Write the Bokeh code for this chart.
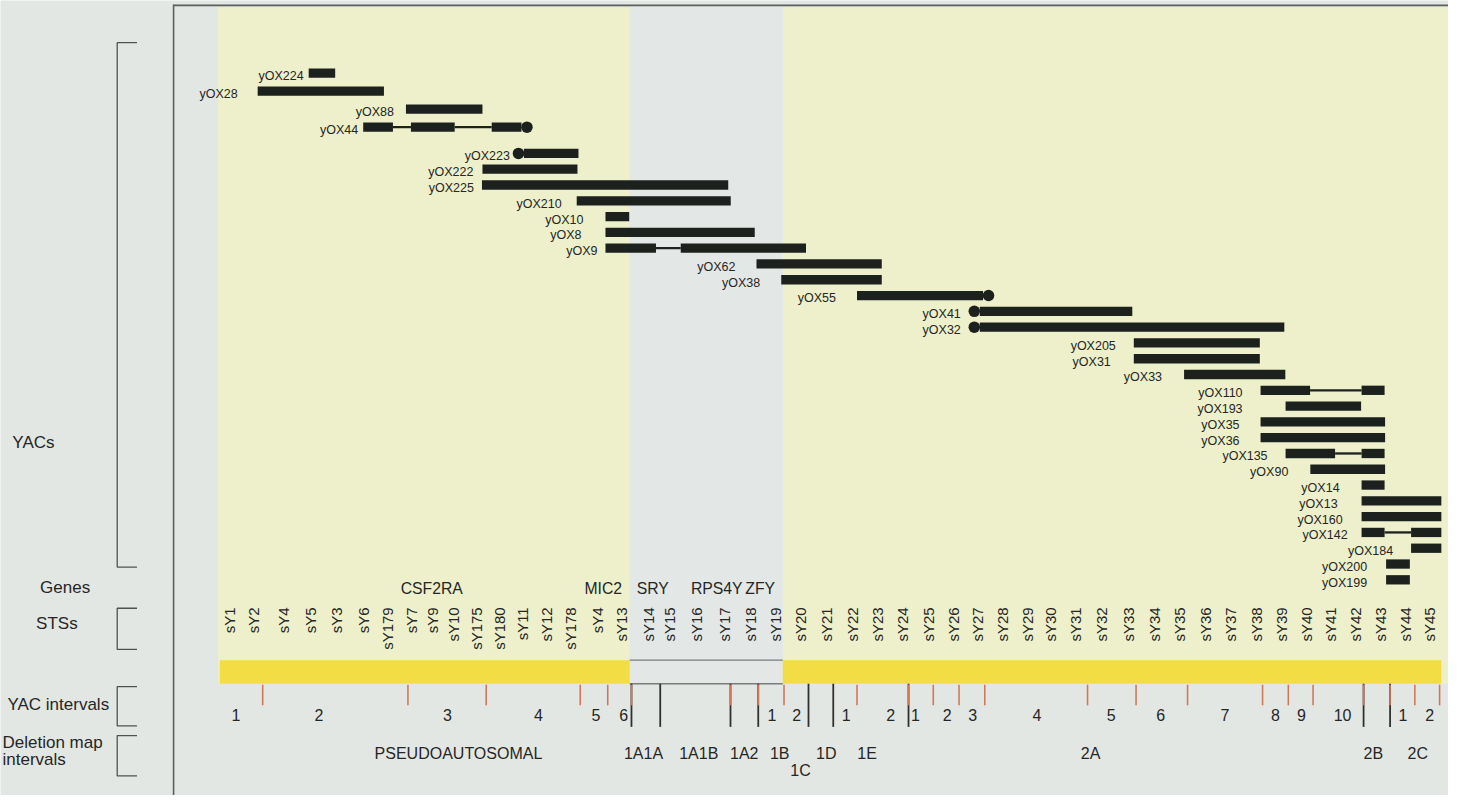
import numpy as np
from bokeh.plotting import figure
from bokeh.models import Range1d
from bokeh.embed import file_html
from bokeh.resources import INLINE
from bokeh.core.properties import value

# ---------------- DATA (map positions in STS-spacing units, sY1 = 0) ----------------
sts_names = ["sY1", "sY2", "sY4", "sY5", "sY3", "sY6", "sY179", "sY7", "sY9", "sY10",
             "sY175", "sY180", "sY11", "sY12", "sY178", "sY4", "sY13", "sY14", "sY15",
             "sY16", "sY17", "sY18", "sY19", "sY20", "sY21", "sY22", "sY23", "sY24",
             "sY25", "sY26", "sY27", "sY28", "sY29", "sY30", "sY31", "sY32", "sY33",
             "sY34", "sY35", "sY36", "sY37", "sY38", "sY39", "sY40", "sY41", "sY42",
             "sY43", "sY44", "sY45"]
sts_pos = [0.00, 0.96, 2.15, 3.23, 4.26, 5.34, 6.33, 7.28, 8.11, 8.96, 9.89, 10.81,
           11.73, 12.66, 13.65, 14.70, 15.69, 16.74, 17.58, 18.66, 19.78, 20.83, 21.82,
           22.81, 23.86, 24.92, 25.91, 26.90, 27.93, 28.94, 29.91, 30.92, 31.91, 32.83,
           33.82, 34.87, 35.93, 36.99, 37.97, 39.03, 40.02, 41.07, 42.06, 43.05, 44.04,
           45.03, 46.02, 47.01, 48.00]

yac_names = ["yOX224", "yOX28", "yOX88", "yOX44", "yOX223", "yOX222", "yOX225", "yOX210",
             "yOX10", "yOX8", "yOX9", "yOX62", "yOX38", "yOX55", "yOX41", "yOX32",
             "yOX205", "yOX31", "yOX33", "yOX110", "yOX193", "yOX35", "yOX36", "yOX135",
             "yOX90", "yOX14", "yOX13", "yOX160", "yOX142", "yOX184", "yOX200", "yOX199"]
yac_start = [3.16, 1.12, 7.05, 5.34, 11.77, 10.11, 10.09, 13.88, 15.03, 15.03, 15.03,
             21.07, 22.06, 25.09, 30.00, 30.00, 36.16, 36.16, 38.17, 41.23, 42.23, 41.23,
             41.23, 42.23, 43.22, 45.27, 45.27, 45.27, 45.27, 47.25, 46.25, 46.25]
yac_end = [4.22, 6.17, 10.11, 11.67, 13.95, 13.91, 19.94, 20.04, 15.98, 21.00, 23.05,
           26.08, 26.08, 30.13, 36.10, 42.18, 41.20, 41.20, 42.22, 46.19, 45.25, 46.21,
           46.21, 46.19, 46.21, 46.19, 48.46, 48.46, 48.46, 48.46, 47.20, 47.20]
# internal gaps (stretches drawn as a thin line)
yac_gaps = {
    "yOX44": [(6.53, 7.25), (9.00, 10.48)],
    "yOX9": [(17.05, 18.04)],
    "yOX110": [(43.21, 45.27)],
    "yOX135": [(44.21, 45.27)],
    "yOX142": [(46.19, 47.25)],
}
# ends marked with a filled circle
yac_end_marker = {"yOX44": "right", "yOX223": "left", "yOX55": "right",
                  "yOX41": "left", "yOX32": "left"}

gene_names = ["CSF2RA", "MIC2", "SRY", "RPS4Y", "ZFY"]
gene_pos = [8.08, 14.94, 16.92, 19.48, 21.22]

yac_interval_bounds = [1.32, 7.13, 10.26, 14.02, 15.12, 16.07, 20.03, 21.14, 22.17, 25.09,
                       27.15, 28.14, 29.17, 30.20, 34.31, 36.25, 38.31, 41.31, 42.34,
                       43.33, 45.35, 46.41, 47.40, 48.39]
deletion_bounds = [16.07, 17.22, 20.03, 21.14, 23.15, 24.14, 27.15, 45.35, 46.41]

yac_interval_labels = ["1", "2", "3", "4", "5", "6", "1", "2", "1", "2", "1", "2", "3",
                       "4", "5", "6", "7", "8", "9", "10", "1", "2"]
yac_interval_label_pos = [0.25, 3.57, 8.71, 12.35, 14.65, 15.76, 21.69, 22.68, 24.66,
                          26.44, 27.43, 28.70, 29.72, 32.29, 35.26, 37.24, 39.81, 41.83,
                          42.86, 44.51, 46.92, 47.99]

deletion_labels = ["PSEUDOAUTOSOMAL", "1A1A", "1A1B", "1A2", "1B", "1C", "1D", "1E",
                   "2A", "2B", "2C"]
deletion_label_pos = [9.15, 16.55, 18.76, 20.58, 22.00, 22.83, 23.86, 25.49, 34.43,
                      45.74, 47.52]
deletion_label_row = [0, 0, 0, 0, 0, 1, 0, 0, 0, 0, 0]

region_x1_start, region_x1_end = -0.46, 16.00     # pseudoautosomal (yellow)
region_grey_start, region_grey_end = 16.00, 22.12
region_x2_start = 22.12

# ---------------- LAYOUT ----------------
W, H = 1448, 795
REF_W, REF_H = 1464, 811
PX = 25.28           # reference pixels per map unit
X0 = 231.7           # reference pixel of sY1


def U(px):
    return (px - X0) / PX


X_LEFT, X_RIGHT = U(0), U(REF_W)

BG = "#e3e7e3"
PALE_Y = "#edf0ca"
GREY_COL = "#e3e8e6"
STRIP = "#f2dd45"
BAR = "#1d211e"
TXT = "#262626"
RED = "#d2785a"
FONT = value("Liberation Sans")

p = figure(width=W, height=H, x_range=Range1d(X_LEFT, X_RIGHT),
           y_range=Range1d(REF_H, 0), output_backend="svg", toolbar_location=None,
           min_border=0, min_border_left=0, min_border_right=0, min_border_top=0,
           min_border_bottom=0)
p.axis.visible = False
p.grid.visible = False
p.outline_line_color = None
p.background_fill_color = BG
p.border_fill_color = BG

TOP, STRIP_TOP, STRIP_BOT = 7, 673, 697

# background regions
p.quad(left=[region_x1_start, region_x2_start], right=[region_x1_end, X_RIGHT],
       top=[TOP, TOP], bottom=[STRIP_BOT, STRIP_BOT], fill_color=PALE_Y, line_color=None)
p.quad(left=[region_grey_start], right=[region_grey_end], top=[TOP], bottom=[STRIP_BOT],
       fill_color=GREY_COL, line_color=None)
# bright strip
p.quad(left=[U(221.7), region_x2_start], right=[region_x1_end, U(1456.7)],
       top=[STRIP_TOP, STRIP_TOP], bottom=[STRIP_BOT, STRIP_BOT],
       fill_color=STRIP, line_color=None)
p.multi_line(xs=[[region_grey_start, region_grey_end]] * 2,
             ys=[[STRIP_TOP, STRIP_TOP], [STRIP_BOT, STRIP_BOT]],
             line_color="#7a7d7a", line_width=1.3)

# frame
p.line([U(175), U(175)], [4, REF_H], line_color="#5d5f5d", line_width=1.6)
p.line([U(175), X_RIGHT], [5, 5], line_color="#5d5f5d", line_width=1.8)

# ---------------- YACs ----------------
n = len(yac_names)
row_y = [74 + i * 18.4 if i < 4 else 156 + (i - 4) * 16.11 for i in range(n)]
label_gap = [5, 20, 12, 5, 14, 9, 8, 15, 22, 24, 8, 21, 21, 21, 19, 19, 18, 23, 22, 18,
             43, 21, 21, 18, 22, 22, 24, 19, 14, 18, 19, 19]

thick_l, thick_r, thick_y = [], [], []
thin_xs, thin_ys = [], []
for name, s, e, y in zip(yac_names, yac_start, yac_end, row_y):
    cur = s
    for a, b in sorted(yac_gaps.get(name, [])):
        thick_l.append(cur); thick_r.append(a); thick_y.append(y)
        thin_xs.append([a, b]); thin_ys.append([y, y])
        cur = b
    thick_l.append(cur); thick_r.append(e); thick_y.append(y)

p.multi_line(xs=thin_xs, ys=thin_ys, line_color=BAR, line_width=2.3)
p.hbar(y=thick_y, left=thick_l, right=thick_r, height=9.5, fill_color=BAR, line_color=None)

mk_x, mk_y = [], []
for name, s, e, y in zip(yac_names, yac_start, yac_end, row_y):
    side = yac_end_marker.get(name)
    if side == "right":
        mk_x.append(e + 0.22); mk_y.append(y)
    elif side == "left":
        mk_x.append(s - 0.22); mk_y.append(y)
p.scatter(mk_x, mk_y, size=11.5, marker="circle", fill_color=BAR, line_color=None)

for name, s, y, g in zip(yac_names, yac_start, row_y, label_gap):
    p.text(x=[s], y=[y + 3], text=[name], x_offset=-g, text_align="right",
           text_baseline="middle", text_font=FONT, text_font_size="12.5px",
           text_color=TXT)

# ---------------- Genes / STSs ----------------
p.text(x=gene_pos, y=[600] * len(gene_pos), text=gene_names, text_align="center",
       text_baseline="middle", text_font=FONT, text_font_size="15.75px", text_color=TXT)
p.text(x=sts_pos, y=[619] * len(sts_pos), text=sts_names, angle=np.pi / 2,
       text_align="right", text_baseline="middle", text_font=FONT,
       text_font_size="15px", text_color=TXT)

# ---------------- intervals ----------------
p.segment(x0=deletion_bounds, x1=deletion_bounds, y0=[697] * len(deletion_bounds),
          y1=[741] * len(deletion_bounds), line_color="#303030", line_width=1.8)
p.segment(x0=yac_interval_bounds, x1=yac_interval_bounds,
          y0=[698] * len(yac_interval_bounds), y1=[719] * len(yac_interval_bounds),
          line_color=RED, line_width=1.6)
p.text(x=yac_interval_label_pos, y=[729] * len(yac_interval_label_pos),
       text=yac_interval_labels, text_align="center", text_baseline="middle",
       text_font=FONT, text_font_size="16px", text_color=TXT)
p.text(x=deletion_label_pos, y=[768 + 17 * r for r in deletion_label_row],
       text=deletion_labels, text_align="center", text_baseline="middle",
       text_font=FONT, text_font_size="16px", text_color=TXT)

# ---------------- left-hand legend ----------------
side_labels = ["YACs", "Genes", "STSs", "YAC intervals", "Deletion map", "intervals"]
side_x = [U(12), U(40), U(36), U(7), U(2), U(2)]
side_y = [451, 599, 636, 718, 757, 774]
p.text(x=side_x, y=side_y, text=side_labels, text_align="left", text_baseline="middle",
       text_font=FONT, text_font_size="17px", text_color=TXT)

brackets = [(43, 578), (620, 662), (700, 740), (750, 791)]
bx0, bx1 = U(118), U(138)
for t, b in brackets:
    p.line([bx1, bx0, bx0, bx1], [t, t, b, b], line_color="#505250", line_width=1.3)

open("out.html", "w").write(file_html(p, INLINE))
